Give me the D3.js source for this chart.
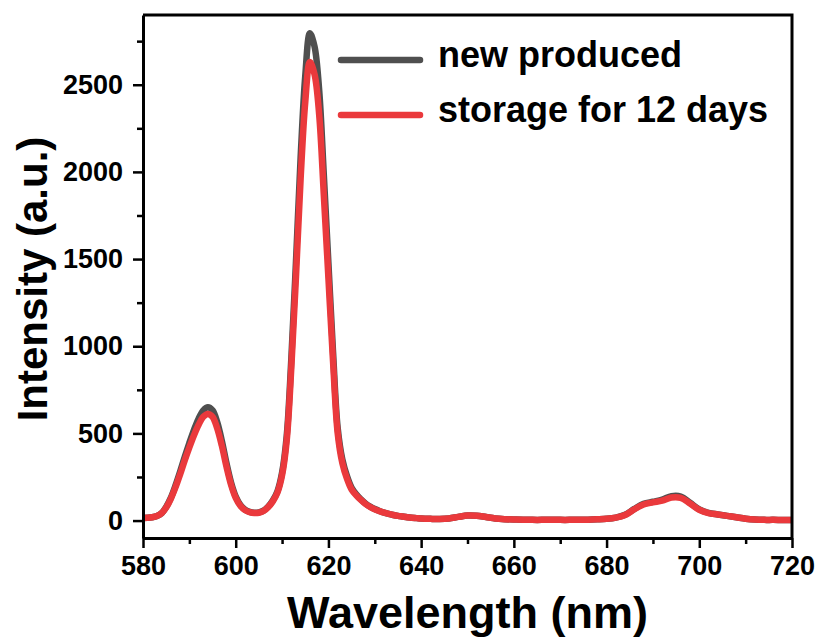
<!DOCTYPE html>
<html>
<head>
<meta charset="utf-8">
<script src="https://cdn.jsdelivr.net/npm/d3@7"></script>
<style>
  body { margin: 0; background: #fff; }
  text { font-family: "Liberation Sans", Arial, sans-serif; font-weight: bold; fill: #000; }
</style>
</head>
<body>
<div id="chart"></div>
<script>
// wavelength (nm)
var wavelengths = [
  580,581,582,583,584,585,586,587,588,589,590,591,592,593,594,595,596,597,598,599,
  600,601,602,603,604,605,606,607,608,609,610,611,612,613,614,615,616,617,618,619,
  620,621,622,623,624,625,626,627,628,629,630,631,632,633,634,635,636,637,638,639,
  640,642,644,646,648,650,652,654,656,658,660,662,664,666,668,670,672,674,676,678,
  680,682,684,686,688,690,692,694,696,698,700,702,704,706,708,710,712,714,716,718,720
];

var newProduced = [
  15,16,19,26,42,78,130,200,280,365,445,520,585,632,650,632,565,458,330,218,
  138,90,63,50,45,47,57,80,115,168,275,485,930,1485,2080,2550,2795,2720,2470,1985,
  1475,965,530,350,255,188,150,122,98,80,66,55,46,38,32,27,23,19,16,14,
  12,10,9,12,21,29,28,20,12,8,6,5,4,4,4,4,4,5,5,7,
  10,17,33,67,96,108,120,140,138,102,64,44,35,27,19,11,6,4,4,3,3
];

var storage12 = [
  15,16,19,26,42,75,125,190,265,345,420,490,550,595,612,595,530,430,310,205,
  130,85,60,48,43,45,55,77,110,160,260,460,880,1400,1960,2400,2630,2560,2330,1870,
  1390,910,500,330,240,178,145,118,95,78,64,54,45,38,32,27,23,19,16,14,
  12,10,9,12,21,29,28,20,12,8,6,5,4,4,4,4,4,5,5,7,
  10,17,32,65,92,104,114,132,130,98,62,43,35,27,19,11,6,4,4,3,3
];

var xTicks = [580, 600, 620, 640, 660, 680, 700, 720];
var yTicks = [0, 500, 1000, 1500, 2000, 2500];
var seriesNames = ["new produced", "storage for 12 days"];
var seriesColors = ["#4f4f4f", "#ea393c"];

var width = 820,
    height = 639;

// plot box ("top" is taken by window.top, so use other names)
var plotLeft = 143, plotRight = 792, plotTop = 15, plotBottom = 538;

var svg = d3.select("#chart")
  .append("svg")
  .attr("width", width)
  .attr("height", height);

var x = d3.scaleLinear().domain([580, 720]).range([plotLeft, plotRight]);
var y = d3.scaleLinear().domain([-100, 2900]).range([plotBottom, plotTop]);

// curves, gray under red
var line = d3.line()
  .x(function(d) { return x(d[0]); })
  .y(function(d) { return y(d[1]); })
  .curve(d3.curveCatmullRom.alpha(0.5));

var series = [newProduced, storage12];

svg.selectAll(".spectrum")
  .data(series)
  .enter().append("path")
  .attr("class", "spectrum")
  .attr("fill", "none")
  .attr("stroke", function(d, i) { return seriesColors[i]; })
  .attr("stroke-width", 6.5)
  .attr("stroke-linejoin", "round")
  .attr("stroke-linecap", "butt")
  .attr("d", function(vals) {
    return line(wavelengths.map(function(w, i) { return [w, vals[i]]; }));
  });

// frame (top + right)
svg.append("path")
  .attr("d", "M" + plotLeft + "," + plotTop + "H" + plotRight + "V" + plotBottom)
  .attr("fill", "none")
  .attr("stroke", "#000")
  .attr("stroke-width", 3);

// x axis, minor ticks every 10 nm
var xMinor = d3.range(590, 720, 20);
svg.append("g")
  .attr("transform", "translate(0," + plotBottom + ")")
  .call(d3.axisBottom(x).tickValues(xMinor).tickSize(6).tickFormat(""))
  .call(function(g) { g.select(".domain").remove(); })
  .selectAll("line").attr("stroke-width", 2.5);

var xAxis = svg.append("g")
  .attr("transform", "translate(0," + plotBottom + ")")
  .call(d3.axisBottom(x).tickValues(xTicks).tickSize(10).tickSizeOuter(0).tickPadding(8));
xAxis.select(".domain").attr("stroke-width", 3);
xAxis.selectAll("line").attr("stroke-width", 2.5);
xAxis.selectAll("text")
  .attr("font-size", 27)
  .attr("font-family", "Liberation Sans, Arial, sans-serif")
  .attr("font-weight", "bold")
  .attr("fill", "#000");

// y axis, minor ticks every 250
var yMinor = d3.range(250, 2900, 500);
svg.append("g")
  .attr("transform", "translate(" + plotLeft + ",0)")
  .call(d3.axisLeft(y).tickValues(yMinor).tickSize(6).tickFormat(""))
  .call(function(g) { g.select(".domain").remove(); })
  .selectAll("line").attr("stroke-width", 2.5);

var yAxis = svg.append("g")
  .attr("transform", "translate(" + plotLeft + ",0)")
  .call(d3.axisLeft(y).tickValues(yTicks).tickSize(10).tickSizeOuter(0).tickPadding(10).tickFormat(d3.format("d")));
yAxis.select(".domain").attr("stroke-width", 3);
yAxis.selectAll("line").attr("stroke-width", 2.5);
yAxis.selectAll("text")
  .attr("font-size", 27)
  .attr("font-family", "Liberation Sans, Arial, sans-serif")
  .attr("font-weight", "bold")
  .attr("fill", "#000");

// axis titles
svg.append("text")
  .attr("x", (plotLeft + plotRight) / 2)
  .attr("y", 628)
  .attr("text-anchor", "middle")
  .attr("font-size", 45)
  .text("Wavelength (nm)");

svg.append("text")
  .attr("transform", "translate(47,279) rotate(-90)")
  .attr("text-anchor", "middle")
  .attr("font-size", 42)
  .text("Intensity (a.u.)");

// legend
var legend = svg.selectAll(".legend")
  .data(seriesNames)
  .enter().append("g")
  .attr("class", "legend")
  .attr("transform", function(d, i) { return "translate(341," + (60 + i * 55) + ")"; });

legend.append("line")
  .attr("x1", 0).attr("x2", 79)
  .attr("stroke", function(d, i) { return seriesColors[i]; })
  .attr("stroke-width", 6.5)
  .attr("stroke-linecap", "round");

legend.append("text")
  .attr("x", 97)
  .attr("y", 7)
  .attr("font-size", 36)
  .text(function(d) { return d; });
</script>
</body>
</html>
